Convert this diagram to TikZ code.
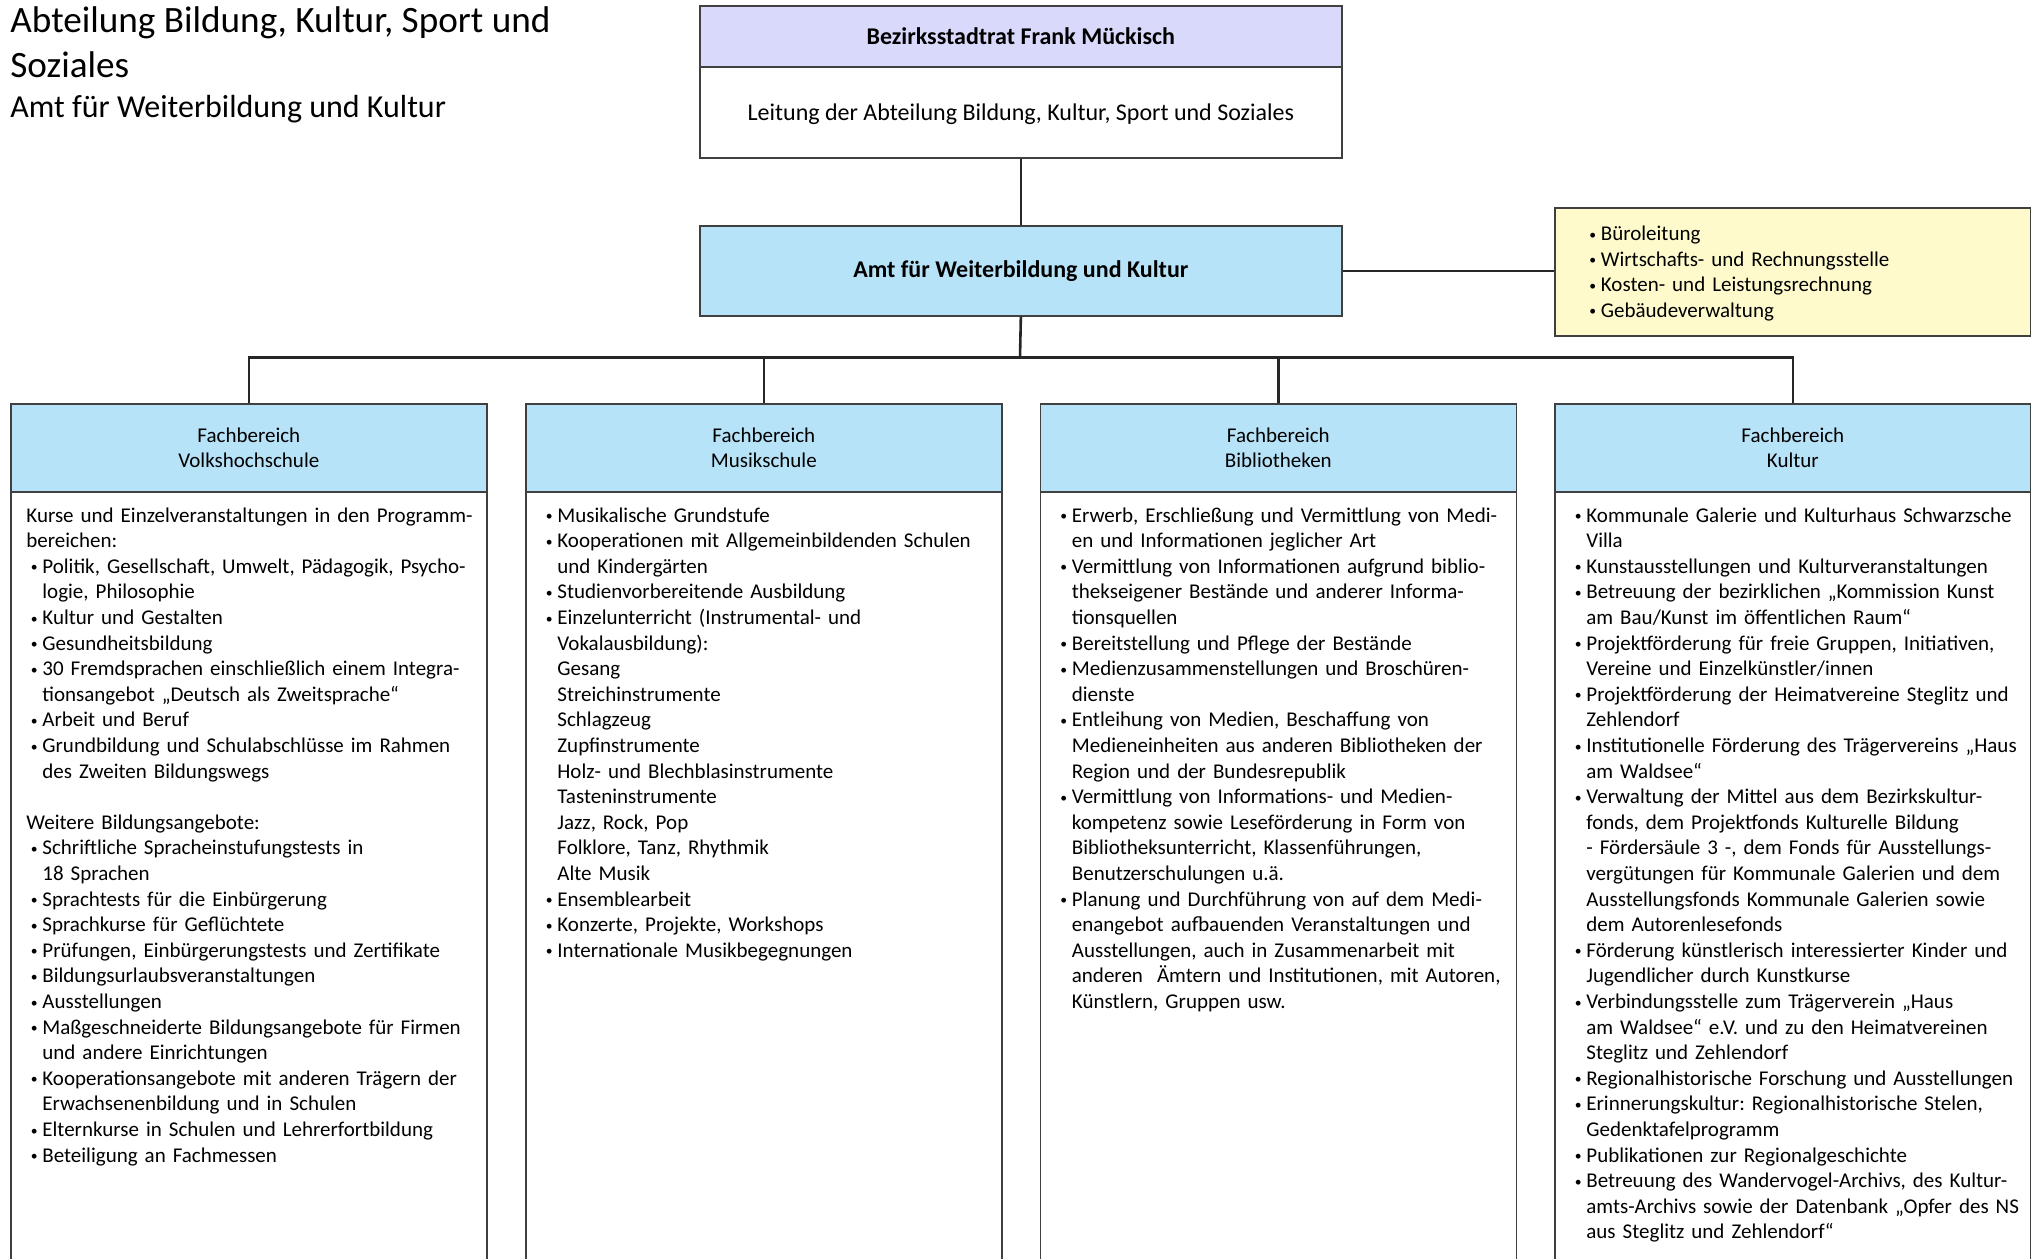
\documentclass[tikz,border=0pt]{standalone}
\usepackage{fontspec}
\usepackage{graphicx}
\setmainfont{Carlito}
\frenchspacing
\definecolor{kopflila}{RGB}{217,217,251}
\definecolor{fbblau}{RGB}{183,227,248}
\definecolor{buerogelb}{RGB}{254,250,204}
\definecolor{rahmengrau}{RGB}{64,64,64}
\definecolor{liniengrau}{RGB}{38,38,38}
\newcommand{\fbschrift}{\fontsize{10.5pt}{12.8pt}\selectfont}
\newcommand{\kopfschrift}{\fontsize{12pt}{14.6pt}\selectfont}
% bullet item and continuation line
\newcommand{\bli}{\makebox[8pt][l]{\hspace*{2.2pt}\raisebox{0.7pt}{\scalebox{0.65}{•}}}}
\newcommand{\blc}{\hspace*{8pt}}
\tikzset{box/.style={draw=rahmengrau, line width=0.85pt, rectangle, inner sep=0pt, anchor=north west},
liste/.style={anchor=base west, inner sep=0pt, text width=230pt, align=left},
linie/.style={draw=liniengrau, line width=1.3pt}}

\begin{document}
\begin{tikzpicture}[x=0.5pt,y=-0.5pt,font=\fbschrift]
    \clip (0,0) rectangle (2031,1259);

    \node[anchor=base west, inner sep=0pt, align=left, font={\fontsize{18.6pt}{22.2pt}\selectfont}] (titel) at (10,77) {Abteilung Bildung, Kultur, Sport und\\Soziales};
    \node[anchor=base west, inner sep=0pt, font={\fontsize{16pt}{19pt}\selectfont}] (untertitel) at (10,117) {Amt für Weiterbildung und Kultur};

    \node[box, fill=kopflila, minimum width=321pt, minimum height=30.5pt, font=\kopfschrift\bfseries] (stadtrat) at (699,5) {Bezirksstadtrat Frank Mückisch};
    \node[box, fill=white, minimum width=321pt, minimum height=45.5pt, text depth=0pt, font=\kopfschrift] (leitung) at (699,66) {Leitung der Abteilung Bildung, Kultur, Sport und Soziales};
    \node[box, fill=fbblau, minimum width=321pt, minimum height=45pt, font=\kopfschrift\bfseries] (amt) at (699,225) {Amt für Weiterbildung und Kultur};
    \node[box, fill=buerogelb, minimum width=238pt, minimum height=64pt] (buero) at (1554,207) {};
    \node[liste] (buero-text) at (1584.5,240.5)
        {\bli Büroleitung\\\bli Wirtschafts- und Rechnungsstelle\\\bli Kosten- und Leistungsrechnung\\\bli Gebäudeverwaltung};

    \foreach \n/\x/\t in {vhs/10/Volkshochschule,musik/525/Musikschule,biblio/1039.5/Bibliotheken,kultur/1554/Kultur}
    {
    \node[box, fill=fbblau, minimum width=238pt, minimum height=44pt, align=center] (\n) at (\x,403) {Fachbereich\\\t};
    \node[box, minimum width=238pt, minimum height=392pt] (\n-liste) at (\x,491) {};
    }

    \node[liste] (vhs-text) at (26,522) {Kurse und Einzelveranstaltungen in den Programm-\\bereichen:\\
        \bli Politik, Gesellschaft, Umwelt, Pädagogik, Psycho-\\\blc logie, Philosophie\\
        \bli Kultur und Gestalten\\
        \bli Gesundheitsbildung\\
        \bli 30 Fremdsprachen einschließlich einem Integra-\\\blc tionsangebot „Deutsch als Zweitsprache“\\
        \bli Arbeit und Beruf\\
        \bli Grundbildung und Schulabschlüsse im Rahmen\\\blc des Zweiten Bildungswegs\\
        \mbox{}\\
        Weitere Bildungsangebote:\\
        \bli Schriftliche Spracheinstufungstests in\\\blc 18 Sprachen\\
        \bli Sprachtests für die Einbürgerung\\
        \bli Sprachkurse für Geflüchtete\\
        \bli Prüfungen, Einbürgerungstests und Zertifikate\\
        \bli Bildungsurlaubsveranstaltungen\\
        \bli Ausstellungen\\
        \bli Maßgeschneiderte Bildungsangebote für Firmen\\\blc und andere Einrichtungen\\
        \bli Kooperationsangebote mit anderen Trägern der\\\blc Erwachsenenbildung und in Schulen\\
        \bli Elternkurse in Schulen und Lehrerfortbildung\\
        \bli Beteiligung an Fachmessen};

    \node[liste] (musik-text) at (541,522) {\bli Musikalische Grundstufe\\
        \bli Kooperationen mit Allgemeinbildenden Schulen\\\blc und Kindergärten\\
        \bli Studienvorbereitende Ausbildung\\
        \bli Einzelunterricht (Instrumental- und\\\blc Vokalausbildung):\\
        \blc Gesang\\\blc Streichinstrumente\\\blc Schlagzeug\\\blc Zupfinstrumente\\
        \blc Holz- und Blechblasinstrumente\\\blc Tasteninstrumente\\\blc Jazz, Rock, Pop\\
        \blc Folklore, Tanz, Rhythmik\\\blc Alte Musik\\
        \bli Ensemblearbeit\\
        \bli Konzerte, Projekte, Workshops\\
        \bli Internationale Musikbegegnungen};

    \node[liste] (biblio-text) at (1055.5,522) {\bli Erwerb, Erschließung und Vermittlung von Medi-\\\blc en und Informationen jeglicher Art\\
        \bli Vermittlung von Informationen aufgrund biblio-\\\blc thekseigener Bestände und anderer Informa-\\\blc tionsquellen\\
        \bli Bereitstellung und Pflege der Bestände\\
        \bli Medienzusammenstellungen und Broschüren-\\\blc dienste\\
        \bli Entleihung von Medien, Beschaffung von\\\blc Medieneinheiten aus anderen Bibliotheken der\\\blc Region und der Bundesrepublik\\
        \bli Vermittlung von Informations- und Medien-\\\blc kompetenz sowie Leseförderung in Form von\\\blc Bibliotheksunterricht, Klassenführungen,\\\blc Benutzerschulungen u.ä.\\
        \bli Planung und Durchführung von auf dem Medi-\\\blc enangebot aufbauenden Veranstaltungen und\\\blc Ausstellungen, auch in Zusammenarbeit mit\\\blc anderen\ \ Ämtern und Institutionen, mit Autoren,\\\blc Künstlern, Gruppen usw.};

    \node[liste] (kultur-text) at (1570,522) {\bli Kommunale Galerie und Kulturhaus Schwarzsche\\\blc Villa\\
        \bli Kunstausstellungen und Kulturveranstaltungen\\
        \bli Betreuung der bezirklichen „Kommission Kunst\\\blc am Bau/Kunst im öffentlichen Raum“\\
        \bli Projektförderung für freie Gruppen, Initiativen,\\\blc Vereine und Einzelkünstler/innen\\
        \bli Projektförderung der Heimatvereine Steglitz und\\\blc Zehlendorf\\
        \bli Institutionelle Förderung des Trägervereins „Haus\\\blc am Waldsee“\\
        \bli Verwaltung der Mittel aus dem Bezirkskultur-\\\blc fonds, dem Projektfonds Kulturelle Bildung\\\blc - Fördersäule 3 -, dem Fonds für Ausstellungs-\\\blc vergütungen für Kommunale Galerien und dem\\\blc Ausstellungsfonds Kommunale Galerien sowie\\\blc dem Autorenlesefonds\\
        \bli Förderung künstlerisch interessierter Kinder und\\\blc Jugendlicher durch Kunstkurse\\
        \bli Verbindungsstelle zum Trägerverein „Haus\\\blc am Waldsee“ e.V. und zu den Heimatvereinen\\\blc Steglitz und Zehlendorf\\
        \bli Regionalhistorische Forschung und Ausstellungen\\
        \bli Erinnerungskultur: Regionalhistorische Stelen,\\\blc Gedenktafelprogramm\\
        \bli Publikationen zur Regionalgeschichte\\
        \bli Betreuung des Wandervogel-Archivs, des Kultur-\\\blc amts-Archivs sowie der Datenbank „Opfer des NS\\\blc aus Steglitz und Zehlendorf“};

    \coordinate (bus) at (1020,357.5);
    \draw[linie] (leitung.south) -- (amt.north);
    \draw[linie] (amt.east) -- (amt.east -| buero.west);
    \draw[linie] (amt.south) -- (bus);
    \draw[linie] (vhs.north) |- (bus) -| (kultur.north);
    \foreach \n in {musik,biblio}
    \draw[linie] (\n.north) -- (\n.north |- bus);

  \end{tikzpicture}
\end{document}
